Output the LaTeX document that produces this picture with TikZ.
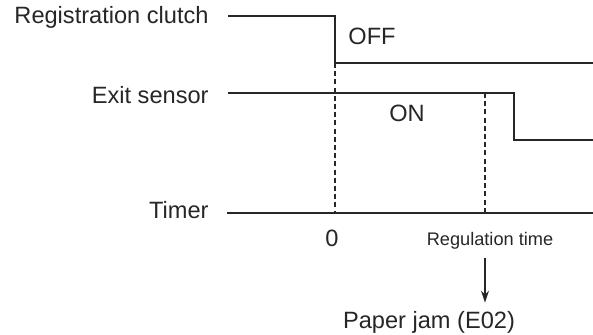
\documentclass[tikz,border=0pt]{standalone}
\usepackage{fontspec}
\setmainfont{Liberation Sans}
\usepackage{tikz}
\usetikzlibrary{arrows, arrows.meta, positioning}
\tikzset{
    signal/.style={line width=1pt, black!85},
    marker/.style={line width=0.9pt, black!85, dash pattern=on 2.5pt off 1.6pt},
    signame/.style={anchor=east, inner sep=0pt, font=\fontsize{11.8}{14}\selectfont, black!85},
    state/.style={inner sep=0pt, font=\fontsize{11.8}{14}\selectfont, black!85},
    small/.style={inner sep=4pt, font=\fontsize{9.1}{11}\selectfont, black!85},
    arrow/.style={line width=0.8pt, black!85, ->, >={Stealth[length=6pt, width=4pt]}}
}

\begin{document}
\begin{tikzpicture}[x=0.5pt, y=-0.5pt]
    \useasboundingbox (0,0) rectangle (593,335);
    % signal names
    \node (clutch) [signame] at (209,17) {Registration clutch};
    \node (exit) [signame] at (209,95) {Exit sensor};
    \node (timer) [signame] at (209,210) {Timer};
    % time marks
    \coordinate (t0) at (335,213);
    \coordinate (treg) at (485,213);
    \coordinate (tend) at (593,213);
    % waveforms
    \draw [signal] (228,16) -- (335,16) |- (593,63);
    \draw [signal] (228,93) -- (514,93) |- (593,140);
    \draw [signal] (227,213) -- (tend);
    \draw [marker] (335,63) -- (t0);
    \draw [marker] (485,93) -- (treg);
    % states
    \node (off) [state] at (372,36) {OFF};
    \node (on) [state] at (407,113) {ON};
    \node (zero) [state] at (332,238) {0};
    \node (reg) [small] at (490,241) {Regulation time};
    \node (jam) [state, inner sep=4pt] at (429,322) {Paper jam (E02)};
    \draw [arrow] (reg.south -| treg) -- (jam.north -| treg);
\end{tikzpicture}
\end{document}
